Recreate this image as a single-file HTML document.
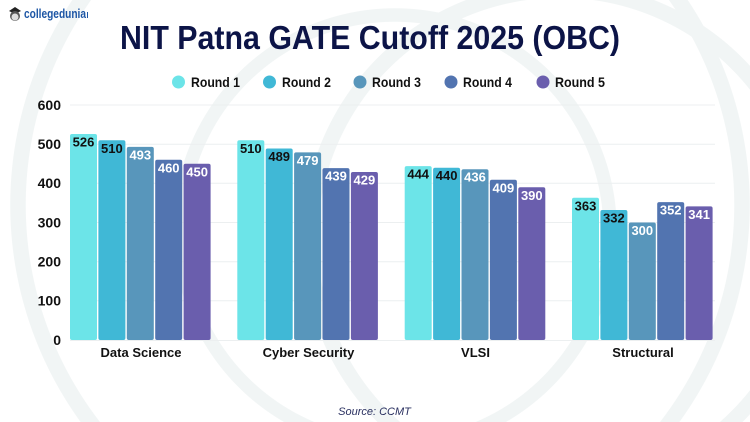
<!DOCTYPE html>
<html><head><meta charset="utf-8"><style>
html,body{margin:0;padding:0;width:750px;height:422px;overflow:hidden;}
body{background:
radial-gradient(circle at 380px 205px, rgba(241,245,245,0) 354px, #f1f5f5 354.5px, #f1f5f5 369.5px, rgba(241,245,245,0) 370px),
radial-gradient(circle at 395px 230px, rgba(241,245,245,0) 208px, #f1f5f5 208.5px, #f1f5f5 221.5px, rgba(241,245,245,0) 222px),
radial-gradient(circle at 560px 240px, rgba(241,245,245,0) 242px, #f1f5f5 242.5px, #f1f5f5 257.5px, rgba(241,245,245,0) 258px),
#ffffff;}
svg{display:block;}
text{font-family:"Liberation Sans",sans-serif;}
</style></head><body>
<svg width="750" height="422" viewBox="0 0 750 422" xmlns="http://www.w3.org/2000/svg">
<!-- logo -->
<g>
<path d="M9 11 L15 7 L21 11 L15 14 Z" fill="#222"/>
<circle cx="15" cy="16" r="5" fill="#555"/>
<circle cx="15" cy="17" r="3.5" fill="#ddd"/>
<text x="24" y="18" font-size="12.5" font-weight="bold" fill="#1d56a5" textLength="62" lengthAdjust="spacingAndGlyphs">collegedunia</text>
<rect x="87" y="12" width="1" height="6" fill="#1d56a5"/>
</g>
<!-- title -->
<text x="120" y="49" font-size="33" font-weight="bold" fill="#0c1447" textLength="500" lengthAdjust="spacingAndGlyphs">NIT Patna GATE Cutoff 2025 (OBC)</text>
<!-- legend -->
<g font-size="14" font-weight="bold" fill="#111">
<circle cx="178.5" cy="82" r="6.5" fill="#6ce4e8"/><text x="191" y="87" textLength="49" lengthAdjust="spacingAndGlyphs">Round 1</text>
<circle cx="269.5" cy="82" r="6.5" fill="#40b8d6"/><text x="282" y="87" textLength="49" lengthAdjust="spacingAndGlyphs">Round 2</text>
<circle cx="360" cy="82" r="6.5" fill="#5896bb"/><text x="372" y="87" textLength="49" lengthAdjust="spacingAndGlyphs">Round 3</text>
<circle cx="451" cy="82" r="6.5" fill="#5274b0"/><text x="463" y="87" textLength="49" lengthAdjust="spacingAndGlyphs">Round 4</text>
<circle cx="543" cy="82" r="6.5" fill="#6a5ead"/><text x="555" y="87" textLength="50" lengthAdjust="spacingAndGlyphs">Round 5</text>
</g>
<!-- gridlines -->
<g stroke="#eceff0" stroke-width="1">
<line x1="70" x2="715" y1="105" y2="105"/>
<line x1="70" x2="715" y1="144.2" y2="144.2"/>
<line x1="70" x2="715" y1="183.3" y2="183.3"/>
<line x1="70" x2="715" y1="222.5" y2="222.5"/>
<line x1="70" x2="715" y1="261.7" y2="261.7"/>
<line x1="70" x2="715" y1="300.8" y2="300.8"/>
<line x1="70" x2="715" y1="340.5" y2="340.5"/>
</g>
<!-- y labels -->
<g font-size="14" font-weight="bold" fill="#111" text-anchor="end">
<text x="61" y="110">600</text>
<text x="61" y="149">500</text>
<text x="61" y="188">400</text>
<text x="61" y="227.5">300</text>
<text x="61" y="266.5">200</text>
<text x="61" y="305.5">100</text>
<text x="61" y="345">0</text>
</g>
<!-- bars -->
<g>
<rect x="70" y="134" width="27" height="206" rx="2" fill="#6ce4e8"/>
<rect x="98.4" y="140.25" width="27" height="199.75" rx="2" fill="#40b8d6"/>
<rect x="126.8" y="146.9" width="27" height="193.1" rx="2" fill="#5896bb"/>
<rect x="155.2" y="159.8" width="27" height="180.2" rx="2" fill="#5274b0"/>
<rect x="183.6" y="163.75" width="27" height="176.25" rx="2" fill="#6a5ead"/>

<rect x="237.3" y="140.25" width="27" height="199.75" rx="2" fill="#6ce4e8"/>
<rect x="265.7" y="148.5" width="27" height="191.5" rx="2" fill="#40b8d6"/>
<rect x="294.1" y="152.4" width="27" height="187.6" rx="2" fill="#5896bb"/>
<rect x="322.5" y="168.1" width="27" height="171.9" rx="2" fill="#5274b0"/>
<rect x="350.9" y="172" width="27" height="168" rx="2" fill="#6a5ead"/>

<rect x="404.7" y="166.1" width="27" height="173.9" rx="2" fill="#6ce4e8"/>
<rect x="433.1" y="167.7" width="27" height="172.3" rx="2" fill="#40b8d6"/>
<rect x="461.5" y="169.2" width="27" height="170.8" rx="2" fill="#5896bb"/>
<rect x="489.9" y="179.8" width="27" height="160.2" rx="2" fill="#5274b0"/>
<rect x="518.3" y="187.25" width="27" height="152.75" rx="2" fill="#6a5ead"/>

<rect x="572" y="197.8" width="27" height="142.2" rx="2" fill="#6ce4e8"/>
<rect x="600.4" y="210" width="27" height="130" rx="2" fill="#40b8d6"/>
<rect x="628.8" y="222.5" width="27" height="117.5" rx="2" fill="#5896bb"/>
<rect x="657.2" y="202.1" width="27" height="137.9" rx="2" fill="#5274b0"/>
<rect x="685.6" y="206.4" width="27" height="133.6" rx="2" fill="#6a5ead"/>
</g>
<!-- value labels -->
<g font-size="13" font-weight="bold" text-anchor="middle">
<text x="83.5" y="146.5" fill="#111">526</text>
<text x="111.9" y="152.75" fill="#111">510</text>
<text x="140.3" y="159.4" fill="#fff">493</text>
<text x="168.7" y="172.3" fill="#fff">460</text>
<text x="197.1" y="176.25" fill="#fff">450</text>

<text x="250.8" y="152.75" fill="#111">510</text>
<text x="279.2" y="161" fill="#111">489</text>
<text x="307.6" y="164.9" fill="#fff">479</text>
<text x="336" y="180.6" fill="#fff">439</text>
<text x="364.4" y="184.5" fill="#fff">429</text>

<text x="418.2" y="178.6" fill="#111">444</text>
<text x="446.6" y="180.2" fill="#111">440</text>
<text x="475" y="181.7" fill="#fff">436</text>
<text x="503.4" y="192.3" fill="#fff">409</text>
<text x="531.8" y="199.75" fill="#fff">390</text>

<text x="585.5" y="210.3" fill="#111">363</text>
<text x="613.9" y="222.5" fill="#111">332</text>
<text x="642.3" y="235" fill="#fff">300</text>
<text x="670.7" y="214.6" fill="#fff">352</text>
<text x="699.1" y="218.9" fill="#fff">341</text>
</g>
<!-- x labels -->
<g font-size="13" font-weight="bold" fill="#111" text-anchor="middle">
<text x="141" y="357">Data Science</text>
<text x="308.5" y="357">Cyber Security</text>
<text x="475.5" y="357">VLSI</text>
<text x="643" y="357">Structural</text>
</g>
<!-- source -->
<text x="374.5" y="415" font-size="11" font-style="italic" fill="#2a3060" text-anchor="middle">Source: CCMT</text>
</svg>
</body></html>
